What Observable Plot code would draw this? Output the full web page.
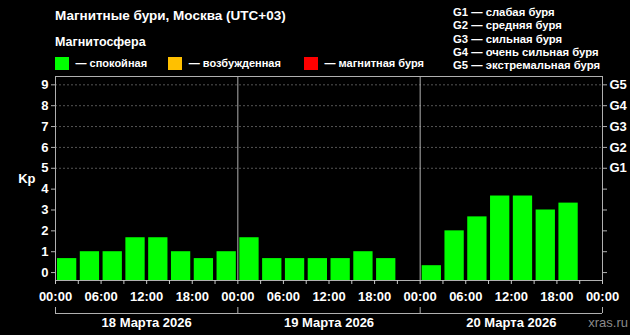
<!DOCTYPE html>
<html>
<head>
<meta charset="utf-8">
<script src="https://cdn.jsdelivr.net/npm/d3@7"></script>
<script src="https://cdn.jsdelivr.net/npm/@observablehq/plot@0.6"></script>
<style>
  html, body { margin: 0; padding: 0; background: #000; }
  #wrap { position: relative; width: 630px; height: 335px; background: #000; overflow: hidden;
          font-family: "Liberation Sans", Arial, sans-serif; color: #fff; font-weight: bold; }
  .t { position: absolute; white-space: nowrap; }
  .sw { position: absolute; width: 13.5px; height: 13.5px; }
  #chart { position: absolute; left: 0; top: 0; }
  #glist { position: absolute; left: 453px; top: 6.2px; font-size: 11.3px; line-height: 13.15px; }
</style>
</head>
<body>
<div id="wrap">
  <div id="chart"></div>
</div>
<script>
// ---- data ----
const dayLabels = ["18 Марта 2026", "19 Марта 2026", "20 Марта 2026"];
const kpDay18 = [0.67, 1, 1, 1.67, 1.67, 1, 0.67, 1];
const kpDay19 = [1.67, 0.67, 0.67, 0.67, 0.67, 1, 0.67, null];
const kpDay20 = [0.33, 2, 2.67, 3.67, 3.67, 3, 3.33, null];
const timeLabels = ["00:00", "06:00", "12:00", "18:00"];
const kpTicks = [0, 1, 2, 3, 4, 5, 6, 7, 8, 9];
const gLabels = ["G1", "G2", "G3", "G4", "G5"];
const gDescriptions = ["слабая буря", "средняя буря", "сильная буря", "очень сильная буря", "экстремальная буря"];
const statusNames = ["спокойная", "возбужденная", "магнитная буря"];
const statusColors = ["#00ff00", "#ffc000", "#ff0000"];
const title = "Магнитные бури, Москва (UTC+03)";
const legendTitle = "Магнитосфера";
const watermark = "xras.ru";

// ---- build table ----
const rows = [];
[kpDay18, kpDay19, kpDay20].forEach((arr, di) => {
  arr.forEach((v, i) => {
    if (v != null) rows.push({h: di * 24 + i * 3, kp: v,
      status: v >= 5 ? statusNames[2] : v >= 4 ? statusNames[1] : statusNames[0]});
  });
});
const yMin = -0.38, yMax = 9.4;
const font = "Liberation Sans, Arial, sans-serif";
const hours = d3.range(0, 73, 3);

const plot = Plot.plot({
  width: 630, height: 335,
  marginTop: 76, marginBottom: 55, marginLeft: 55, marginRight: 28,
  style: {background: "#000", color: "#fff", fontFamily: font, overflow: "visible"},
  x: {domain: [0, 72], axis: null},
  y: {domain: [yMin, yMax], axis: null},
  color: {domain: statusNames, range: statusColors},
  marks: [
    Plot.ruleY([5, 6, 7, 8, 9], {stroke: "#6a6a6a", strokeDasharray: "2,2", strokeWidth: 0.8}),
    Plot.rectY(rows, {x1: "h", x2: d => d.h + 3, y1: yMin, y2: "kp", fill: "status", insetLeft: 2, insetRight: 1.5}),
    Plot.ruleX([24, 48], {stroke: "#b0b0b0"}),
    Plot.frame({stroke: "#b0b0b0"}),
    Plot.axisY({anchor: "left", ticks: kpTicks, tickSize: 4, tickPadding: 3, stroke: "#b0b0b0", fill: "#fff",
      fontSize: 13, fontWeight: "bold", fontFamily: font, label: null}),
    Plot.axisY({anchor: "right", ticks: kpTicks, tickSize: 4, tickPadding: 3, stroke: "#b0b0b0", fill: "#fff",
      tickFormat: d => d >= 5 ? gLabels[d - 5] : "", fontSize: 13, fontWeight: "bold", fontFamily: font, label: null}),
    Plot.axisX({anchor: "bottom", ticks: hours, tickSize: 4, tickPadding: 7, stroke: "#c8c8c8", fill: "#fff",
      tickFormat: d => d % 6 ? "" : timeLabels[(d % 24) / 6], fontSize: 13, fontWeight: "bold", fontFamily: font, label: null}),
    // date brackets
    Plot.ruleY([yMin], {dy: 33, stroke: "#b0b0b0"}),
    Plot.axisX({anchor: "bottom", ticks: [0, 24, 48, 72], tickSize: 6, tickFormat: () => "", stroke: "#b0b0b0", dy: 27, label: null}),
    Plot.axisX({anchor: "bottom", ticks: [12, 36, 60], tickSize: 0, tickPadding: 36.8, fill: "#fff",
      tickFormat: d => dayLabels[(d - 12) / 24], fontSize: 13, fontWeight: "bold", fontFamily: font, label: null}),
    Plot.text(["Kp"], {frameAnchor: "left", dx: -20, textAnchor: "end", fill: "#fff", fontSize: 13, fontWeight: "bold", fontFamily: font})
  ]
});
document.getElementById("chart").appendChild(plot);

// ---- header (HTML) ----
const wrap = document.getElementById("wrap");
function addText(txt, left, baseline, fs, extra) {
  const el = document.createElement("div");
  el.className = "t";
  el.textContent = txt;
  el.style.fontSize = fs + "px";
  el.style.lineHeight = fs + "px";
  el.style.left = left + "px";
  el.style.top = (baseline - 0.8465 * fs) + "px";
  if (extra) Object.assign(el.style, extra);
  wrap.appendChild(el);
  return el;
}
addText(title, 55, 20.5, 13.5);
addText(legendTitle, 55, 46.7, 12.5);
const swX = [55, 168.3, 304];
statusNames.forEach((s, i) => {
  const sw = document.createElement("div");
  sw.className = "sw";
  sw.style.left = swX[i] + "px";
  sw.style.top = "56.7px";
  sw.style.background = statusColors[i];
  wrap.appendChild(sw);
  addText("— " + s, swX[i] + 20.5, 67.7, 11);
});
const gl = document.createElement("div");
gl.id = "glist";
gl.innerHTML = gLabels.map((g, i) => g + " — " + gDescriptions[i]).join("<br>");
wrap.appendChild(gl);
addText(watermark, 0, 327, 13, {fontWeight: "normal", color: "#8a8a8a", left: "auto", right: "2px"});
</script>
</body>
</html>
